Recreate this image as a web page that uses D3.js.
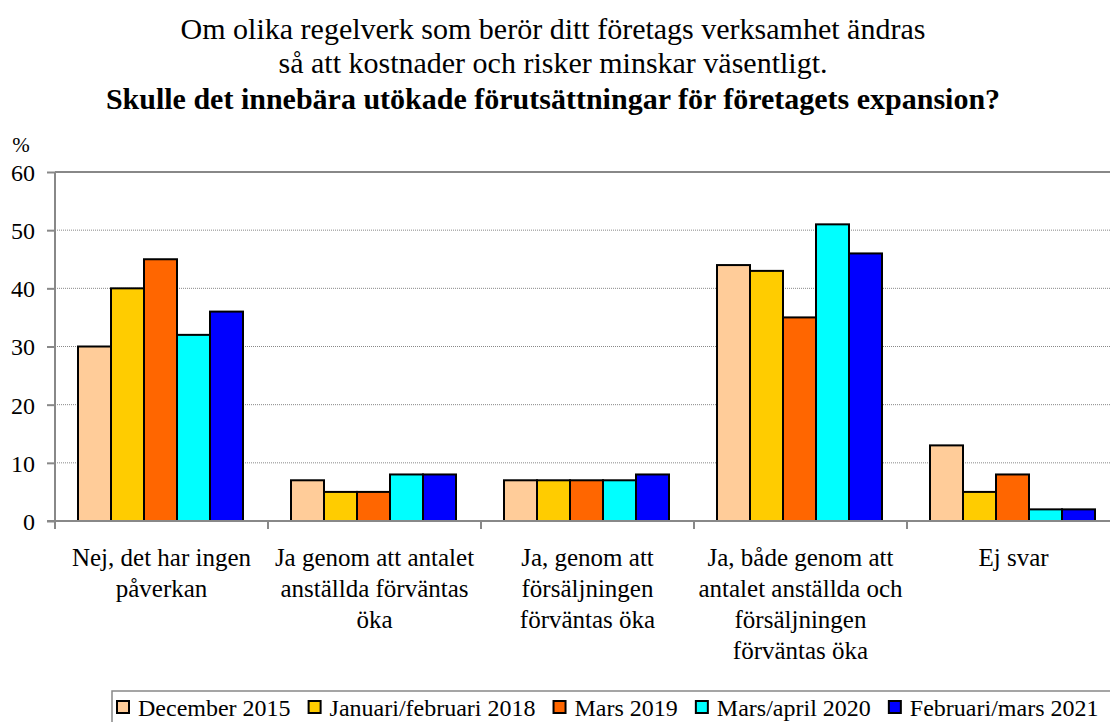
<!DOCTYPE html>
<html>
<head>
  <meta charset="utf-8">
  <style>
    * { margin: 0; padding: 0; box-sizing: border-box; }
    body { background: #fff; }
    svg { display: block; }
    text { font-family: "Liberation Serif", "Times New Roman", serif; fill: #000; }
  </style>
</head>
<body>
  <div id="chart"></div>
  <script src="https://cdn.jsdelivr.net/npm/d3@7"></script>
  <script>
    // svar per kategori och mätomgång, procent
    const categories = [
      ['Nej, det har ingen', 'påverkan'],
      ['Ja genom att antalet', 'anställda förväntas', 'öka'],
      ['Ja, genom att', 'försäljningen', 'förväntas öka'],
      ['Ja, både genom att', 'antalet anställda och', 'försäljningen', 'förväntas öka'],
      ['Ej svar']
    ];
    const series = ['December 2015', 'Januari/februari 2018', 'Mars 2019', 'Mars/april 2020', 'Februari/mars 2021'];
    const dec2015 = [30, 7, 7, 44, 13];
    const jan2018 = [40, 5, 7, 43, 5];
    const mar2019 = [45, 5, 7, 35, 8];
    const apr2020 = [32, 8, 7, 51, 2];
    const feb2021 = [36, 8, 8, 46, 2];
    const yTicks = [0, 10, 20, 30, 40, 50, 60];
    const colors = ['#FFCC99', '#FFCC00', '#FF6600', '#00FFFF', '#0000FF'];
    const titleLines = [
      'Om olika regelverk som berör ditt företags verksamhet ändras',
      'så att kostnader och risker minskar väsentligt.'
    ];
    const titleBold = 'Skulle det innebära utökade förutsättningar för företagets expansion?';

    (function() {
      const values = [dec2015, jan2018, mar2019, apr2020, feb2021];
      const width = 1110, height = 722;
      const mLeft = 55, mRight = 1120, mTop = 172, mBottom = 521;

      const svg = d3.select('#chart').append('svg')
        .attr('width', width).attr('height', height);

      const catIdx = d3.range(categories.length);
      const x0 = d3.scaleBand().domain(catIdx).range([mLeft, mRight]);
      const x1 = d3.scaleBand().domain(d3.range(series.length)).range([23, 188]);
      const y = d3.scaleLinear().domain([0, 60]).range([mBottom, mTop]);

      // titel
      const title = svg.append('g');
      titleLines.forEach(function(t, i) {
        title.append('text').attr('x', 553).attr('y', 39 + i * 34)
          .attr('text-anchor', 'middle').attr('font-size', 30).text(t);
      });
      title.append('text').attr('x', 553).attr('y', 109)
        .attr('text-anchor', 'middle').attr('font-size', 30).attr('font-weight', 'bold')
        .text(titleBold);

      // rutnät
      svg.append('g').selectAll('line')
        .data(yTicks.filter(function(d) { return d > 0; }))
        .join('line')
        .attr('x1', mLeft).attr('x2', mRight)
        .attr('y1', function(d) { return y(d); }).attr('y2', function(d) { return y(d); })
        .attr('stroke', '#888')
        .attr('stroke-width', function(d) { return d === 60 ? 2 : 1; })
        .attr('stroke-dasharray', function(d) { return d === 60 ? null : '1,1'; });

      // staplar
      svg.append('g').selectAll('g')
        .data(values)
        .join('g')
        .attr('fill', function(d, i) { return colors[i]; })
        .each(function(vals, si) {
          d3.select(this).selectAll('rect')
            .data(vals)
            .join('rect')
            .attr('x', function(v, ci) { return x0(ci) + x1(si); })
            .attr('y', function(v) { return y(v); })
            .attr('width', x1.bandwidth())
            .attr('height', function(v) { return y(0) - y(v); })
            .attr('stroke', '#000')
            .attr('stroke-width', 2);
        });

      // y-axel
      const yAxis = svg.append('g').attr('transform', 'translate(' + mLeft + ',0)')
        .call(d3.axisLeft(y).tickValues(yTicks).tickSize(8).tickPadding(12));
      yAxis.select('.domain').remove();
      yAxis.selectAll('.tick line').attr('stroke', '#888').attr('stroke-width', 2);
      yAxis.selectAll('.tick text').attr('font-size', 24).attr('font-family', null).attr('dy', '0.35em');
      svg.append('line').attr('x1', mLeft).attr('x2', mLeft).attr('y1', mTop).attr('y2', mBottom + 8)
        .attr('stroke', '#888').attr('stroke-width', 2);
      svg.append('text').attr('x', 21).attr('y', 152).attr('text-anchor', 'middle')
        .attr('font-size', 21).text('%');

      // x-axel
      svg.append('line').attr('x1', mLeft - 8).attr('x2', mRight).attr('y1', mBottom).attr('y2', mBottom)
        .attr('stroke', '#888').attr('stroke-width', 2);
      svg.append('g').selectAll('line')
        .data(catIdx.slice(1))
        .join('line')
        .attr('x1', function(d) { return x0(d); }).attr('x2', function(d) { return x0(d); })
        .attr('y1', mBottom).attr('y2', mBottom + 8)
        .attr('stroke', '#888').attr('stroke-width', 2);

      const labels = svg.append('g');
      categories.forEach(function(lines, ci) {
        const cx = x0(ci) + x0.bandwidth() / 2;
        const t = labels.append('text')
          .attr('text-anchor', 'middle').attr('font-size', 25)
          .attr('x', cx).attr('y', 566);
        lines.forEach(function(l, i) {
          t.append('tspan').attr('x', cx).attr('dy', i === 0 ? 0 : 31).text(l);
        });
      });

      // förklaring
      const legend = svg.append('g');
      legend.append('rect').attr('x', 112).attr('y', 691).attr('width', 1100).attr('height', 60)
        .attr('fill', '#fff').attr('stroke', '#888').attr('stroke-width', 1.5);
      let lx = 117;
      series.forEach(function(s, i) {
        legend.append('rect').attr('x', lx).attr('y', 701).attr('width', 12).attr('height', 12)
          .attr('fill', colors[i]).attr('stroke', '#000').attr('stroke-width', 2);
        const t = legend.append('text').attr('x', lx + 21).attr('y', 716)
          .attr('font-size', 24).text(s);
        lx += 21 + t.node().getComputedTextLength() + 18;
      });
    })();
  </script>
</body>
</html>
